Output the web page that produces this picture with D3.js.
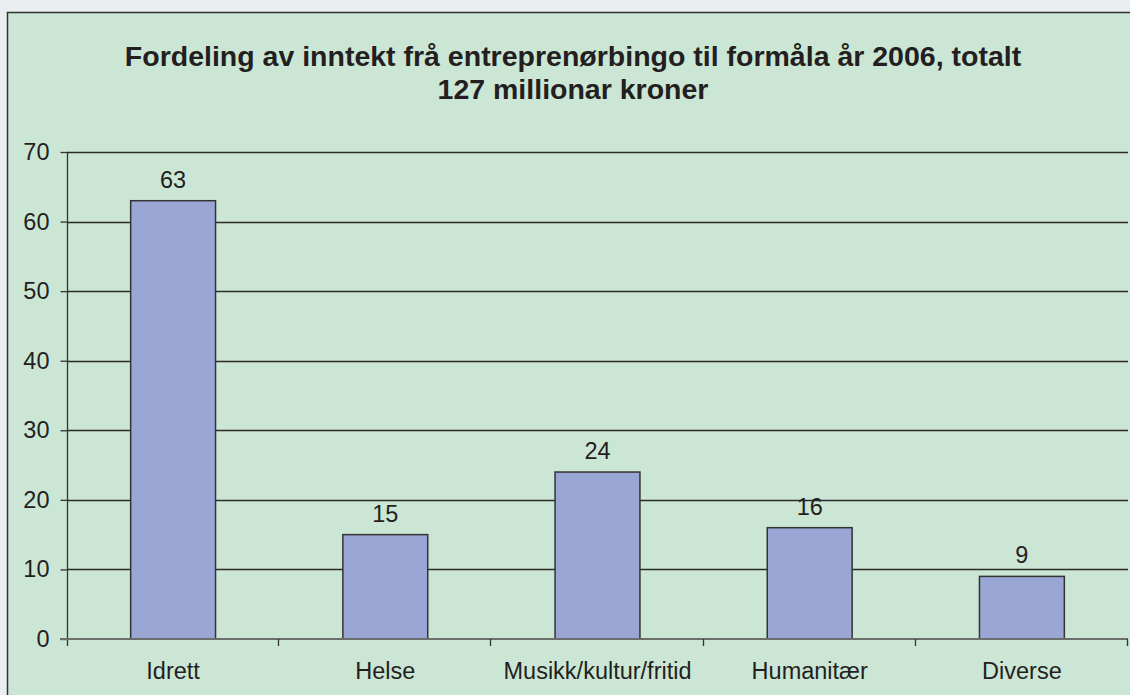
<!DOCTYPE html>
<html>
<head>
<meta charset="utf-8">
<script src="https://cdn.jsdelivr.net/npm/d3@7"></script>
<style>
  body { margin: 0; background: #eaeef1; }
  svg { display: block; font-family: "Liberation Sans", Arial, sans-serif; }
</style>
</head>
<body>
<div id="chart"></div>
<script>
// data
var categories = ["Idrett", "Helse", "Musikk/kultur/fritid", "Humanitær", "Diverse"];
var values = [63, 15, 24, 16, 9];
var yTicks = [0, 10, 20, 30, 40, 50, 60, 70];
var titleLines = ["Fordeling av inntekt frå entreprenørbingo til formåla år 2006, totalt",
                  "127 millionar kroner"];

var w = 1130, h = 695;

var svg = d3.select("#chart").append("svg")
    .attr("width", w)
    .attr("height", h);

// outer background + panel
svg.append("rect")
    .attr("width", w).attr("height", h)
    .style("fill", "#eaeef1");

svg.append("rect")
    .attr("x", 7).attr("y", 12)
    .attr("width", w - 7).attr("height", h - 12)
    .style("fill", "#cce6d5");

svg.append("path")
    .attr("d", "M7.5," + h + "V12.5H" + w)
    .style("fill", "none")
    .style("stroke", "#333")
    .style("stroke-width", 1.5);

// title
svg.append("g")
    .selectAll("text")
    .data(titleLines)
    .enter()
    .append("text")
    .attr("x", 573)
    .attr("y", function (d, i) { return 66 + i * 33; })
    .attr("text-anchor", "middle")
    .style("font-size", "28.5px")
    .style("font-weight", "bold")
    .style("fill", "#231f20")
    .text(function (d) { return d; });

var x = d3.scaleBand()
    .domain(categories)
    .range([67, 1128])
    .padding(0);

var y = d3.scaleLinear()
    .domain([0, 70])
    .range([639, 152]);

// gridlines
svg.append("g")
    .selectAll("line")
    .data(yTicks.filter(function (d) { return d > 0; }))
    .enter()
    .append("line")
    .attr("x1", 67).attr("x2", 1128)
    .attr("y1", function (d) { return Math.round(y(d)) + 0.5; })
    .attr("y2", function (d) { return Math.round(y(d)) + 0.5; })
    .style("stroke", "#2a2a2a")
    .style("stroke-width", 1.4);

// y axis
var yAxis = svg.append("g")
    .attr("transform", "translate(67.5,0)")
    .call(d3.axisLeft(y).tickValues(yTicks).tickSize(7).tickPadding(11));

yAxis.select(".domain")
    .attr("d", "M0," + y(70) + "V646")
    .style("stroke", "#333")
    .style("stroke-width", 1.3);
yAxis.selectAll(".tick line").style("stroke", "#333").style("stroke-width", 1.3);
yAxis.selectAll(".tick text")
    .style("font-size", "23.5px")
    .style("fill", "#231f20")
    .style("font-family", "Liberation Sans, Arial, sans-serif");

// bars
var bw = x.bandwidth() * 0.4;
svg.append("g")
    .selectAll("rect")
    .data(values)
    .enter()
    .append("rect")
    .attr("x", function (d, i) { return x(categories[i]) + (x.bandwidth() - bw) / 2; })
    .attr("y", function (d) { return y(d); })
    .attr("width", bw)
    .attr("height", function (d) { return y(0) - y(d); })
    .style("fill", "#9aa6d4")
    .style("stroke", "#333")
    .style("stroke-width", 1.5);

// value labels
svg.append("g")
    .selectAll("text")
    .data(values)
    .enter()
    .append("text")
    .attr("x", function (d, i) { return x(categories[i]) + x.bandwidth() / 2; })
    .attr("y", function (d) { return y(d) - 13; })
    .attr("text-anchor", "middle")
    .style("font-size", "23.5px")
    .style("fill", "#231f20")
    .text(function (d) { return d; });

// x axis
var xAxis = svg.append("g")
    .attr("transform", "translate(0," + y(0) + ")")
    .call(d3.axisBottom(x).tickSize(0).tickPadding(0));

xAxis.select(".domain")
    .attr("d", "M60,0H1128")
    .style("stroke", "#6b6f6b")
    .style("stroke-width", 2);

xAxis.selectAll(".tick text")
    .attr("y", 40)
    .attr("dy", 0)
    .style("font-size", "23.5px")
    .style("fill", "#231f20")
    .style("font-family", "Liberation Sans, Arial, sans-serif");

// category boundary ticks
var bounds = categories.map(function (c) { return x(c); }).concat([x.range()[1]]);
xAxis.append("g")
    .selectAll("line")
    .data(bounds.slice(1))
    .enter()
    .append("line")
    .attr("x1", function (d) { return Math.round(d) - 0.5; })
    .attr("x2", function (d) { return Math.round(d) - 0.5; })
    .attr("y1", 0).attr("y2", 7)
    .style("stroke", "#333")
    .style("stroke-width", 1.3);
</script>
</body>
</html>
